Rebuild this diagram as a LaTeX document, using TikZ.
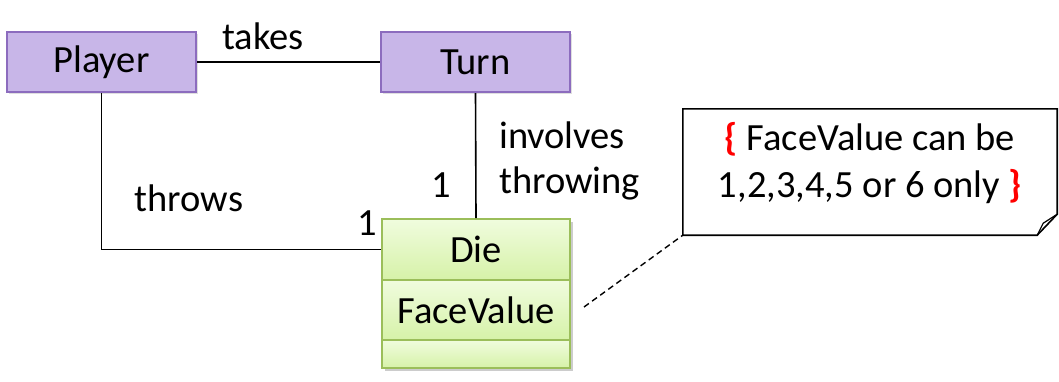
\documentclass[tikz,border=0pt]{standalone}
\usepackage{fontspec}
\setmainfont{Carlito}
\usetikzlibrary{shadows,calc}
\definecolor{pfill}{RGB}{200,182,232}
\definecolor{pdraw}{RGB}{140,108,190}
\definecolor{gtop}{RGB}{240,252,222}
\definecolor{gbot}{RGB}{214,242,168}
\definecolor{gdraw}{RGB}{155,190,90}
\definecolor{bracered}{RGB}{255,0,0}
\begin{document}
\begin{tikzpicture}[x=1pt,y=-1pt,
  every node/.style={font=\fontsize{38.5}{45}\selectfont, inner sep=0pt},
  classbox/.style={draw=pdraw, fill=pfill, line width=2pt, minimum width=189pt, minimum height=60pt,
     drop shadow={shadow xshift=2pt, shadow yshift=-2pt, opacity=0.25}},
  compbox/.style={draw=gdraw, top color=gtop, bottom color=gbot, line width=2pt, minimum width=188pt},
  conn/.style={line width=1.6pt, black},
  lbl/.style={text=black},
  notebox/.style={minimum width=374pt, minimum height=126pt, align=center, font=\fontsize{38.5}{47}\selectfont}
]
\useasboundingbox (0,0) rectangle (1059,381);
% shadow of die class
\fill[black, opacity=0.2] (385,222) rectangle (573,371);
\node[classbox] (player) at (101.5,62) {Player};
\node[classbox] (turn) at (475.5,62) {Turn};
\node[compbox, minimum height=61pt] (die) at (476,249.5) {Die};
\node[compbox, minimum height=60pt] (fv) at (476,310) {FaceValue};
\node[compbox, minimum height=28pt] (empty) at (476,354) {};
% connectors
\draw[conn] (player.east) -- (turn.west);
\draw[conn] (player.south) |- (die.west);
\draw[conn] (turn.south) -- (die.north);
% labels
\node[lbl] (takes) at (263,36) {takes};
\node[lbl] (throws) at (189,198) {throws};
\node[lbl] (m1) at (367,223) {1};
\node[lbl] (m2) at (441,185) {1};
\node[lbl, align=left, anchor=west] (inv) at (499,161) {involves\\throwing};
% note
\coordinate (notec) at (870,172);
\node[notebox] (note) at (notec) {};
\coordinate (fa) at ([yshift=21pt]note.south east);
\coordinate (fb) at ([xshift=-20pt]note.south east);
\coordinate (fc) at ([xshift=-14pt,yshift=12pt]note.south east);
\draw[line width=1.6pt, fill=white] (note.south west) -- (note.north west) -- (note.north east) -- (fa) -- (fb) -- cycle;
\draw[line width=1.2pt, line join=round] (fb) -- (fc) -- (fa);
\draw[line width=1.4pt, dash pattern=on 6pt off 4pt] ([xshift=13pt,yshift=3pt]fv.east) -- (note.south west);
\node[notebox, minimum width=0pt, minimum height=0pt] (notetext) at ([yshift=9pt]note.center) {{\color{bracered}\textbf{\{}} FaceValue can be\\1,2,3,4,5 or 6 only {\color{bracered}\textbf{\}}}};
\end{tikzpicture}
\end{document}
